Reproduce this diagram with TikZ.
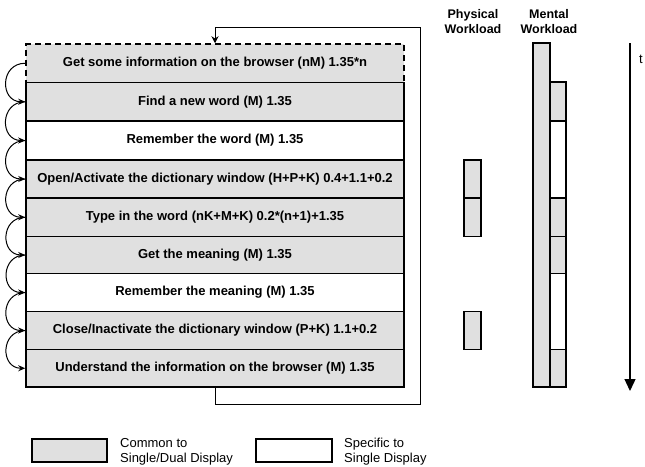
\documentclass[tikz,border=0pt]{standalone}
\usepackage{fontspec}
\setmainfont{Liberation Sans}
\usetikzlibrary{arrows.meta}
\definecolor{cfill}{gray}{0.88}
\tikzset{
  rowbox/.style={draw=black, line width=1.5pt, minimum width=378pt, inner sep=0pt,
    font=\fontsize{13}{15}\selectfont\bfseries},
  arc/.style={line width=1pt, -{Stealth[length=7pt,width=6pt]}},
  bar/.style={draw=black, line width=1.3pt},
  lbl/.style={inner sep=0pt, font=\fontsize{13}{15}\selectfont},
  hdr/.style={inner sep=0pt, align=center, font=\fontsize{12.5}{15}\selectfont\bfseries}
}
\begin{document}
\begin{tikzpicture}[x=1pt,y=-1pt]
\useasboundingbox (0,0) rectangle (645,466);
% rows
\node[rowbox, fill=cfill, dash pattern=on 6pt off 4pt, minimum height=38.5pt] (r0) at (215,63.25) {Get some information on the browser (nM) 1.35*n};
\node[rowbox, fill=cfill, minimum height=38.5pt] (r1) at (215,101.75) {Find a new word (M) 1.35};
\node[rowbox, fill=white, minimum height=39pt] (r2) at (215,140.5) {Remember the word (M) 1.35};
\node[rowbox, fill=cfill, minimum height=38pt] (r3) at (215,179) {Open/Activate the dictionary window (H+P+K) 0.4+1.1+0.2};
\node[rowbox, fill=cfill, minimum height=38.5pt] (r4) at (215,217.25) {Type in the word (nK+M+K) 0.2*(n+1)+1.35};
\node[rowbox, fill=cfill, minimum height=37pt] (r5) at (215,255) {Get the meaning (M) 1.35};
\node[rowbox, fill=white, minimum height=38pt] (r6) at (215,292.5) {Remember the meaning (M) 1.35};
\node[rowbox, fill=cfill, minimum height=38pt] (r7) at (215,330.5) {Close/Inactivate the dictionary window (P+K) 1.1+0.2};
\node[rowbox, fill=cfill, minimum height=37.5pt] (r8) at (215,368.25) {Understand the information on the browser (M) 1.35};
% arcs
\foreach \a/\b in {r0/r1,r1/r2,r2/r3,r3/r4,r4/r5,r5/r6,r6/r7,r7/r8}
  \draw[arc] (\a.west) to[out=180,in=180,looseness=1.7] (\b.west);
% loop
\coordinate (lbr) at (420,404);
\coordinate (ltr) at (420,27);
\draw[line width=1pt, -{Stealth[length=7pt,width=7pt]}] (r8.south) |- (lbr) -- (ltr) -| (r0.north);
% headers
\node[hdr, anchor=base] (hp) at (473,33) {Physical\\Workload};
\node[hdr, anchor=base] (hm) at (549,33) {Mental\\Workload};
% physical bars
\draw[bar, fill=cfill] (464,160) rectangle (481,198);
\draw[bar, fill=cfill] (464,198) rectangle (481,236.5);
\draw[bar, fill=cfill] (464,311.5) rectangle (481,349.5);
% mental bars
\draw[bar, fill=cfill] (533,43) rectangle (550,387);
\draw[bar, fill=cfill] (550,82) rectangle (566,121);
\draw[bar, fill=white] (550,121) rectangle (566,198);
\draw[bar, fill=cfill] (550,198) rectangle (566,236.5);
\draw[bar, fill=cfill] (550,236.5) rectangle (566,273.5);
\draw[bar, fill=white] (550,273.5) rectangle (566,349.5);
\draw[bar, fill=cfill] (550,349.5) rectangle (566,387);
% time arrow
\coordinate (t0) at (630,43);
\coordinate (t1) at (630,391);
\draw[line width=1.3pt, -{Triangle[length=12pt,width=11pt]}] (t0) -- (t1);
\node[lbl, anchor=base west] (tl) at (639,63) {t};
% legend
\node[draw=black, line width=1.5pt, fill=cfill, minimum width=75pt, minimum height=23pt, inner sep=0pt] (lg1) at (69.5,450.5) {};
\node[draw=black, line width=1.5pt, fill=white, minimum width=76pt, minimum height=23pt, inner sep=0pt] (lg2) at (294,450.5) {};
\node[lbl, anchor=base west, align=left] (lt1) at (120,462) {Common to\\Single/Dual Display};
\node[lbl, anchor=base west, align=left] (lt2) at (344,462) {Specific to\\Single Display};
\end{tikzpicture}
\end{document}
